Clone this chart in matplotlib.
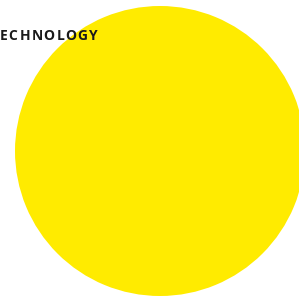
import matplotlib
matplotlib.use("Agg")
import matplotlib.pyplot as plt
from matplotlib.font_manager import FontProperties, findfont, get_font
from matplotlib.ft2font import LoadFlags

categories = ["TECHNOLOGY"]
values = [1]
colors = ["#FFEB00"]

W, H = 299, 297
fig = plt.figure(figsize=(W / 100, H / 100), dpi=100)
ax = fig.add_axes([0, 0, 1, 1])

ax.pie(values, colors=colors, radius=145, center=(160, 151),
       startangle=90, frame=True, wedgeprops=dict(linewidth=0))
ax.set_xlim(0, W)
ax.set_ylim(H, 0)
ax.set_aspect("auto")
ax.axis("off")

# label with letter spacing, right end at x=97
label = categories[0]
fsize = 10
fp = FontProperties(family="Open Sans", weight="bold", size=fsize)
font = get_font(findfont(fp))
font.set_size(fsize, 100)
advances, bearings = [], []
for ch in label:
    g = font.load_char(ord(ch), flags=LoadFlags.NO_HINTING)
    advances.append(g.linearHoriAdvance / 65536.0)
    bearings.append(g.horiBearingX / 64.0)
spacing = 1.4
total = sum(advances) + spacing * (len(label) - 1)
x = 97 - total
for ch, adv, bx in zip(label, advances, bearings):
    ax.text(x + bx, 36, ch, ha="left", va="center", fontproperties=fp,
            color="#1a1a1a", zorder=5)
    x += adv + spacing

fig.savefig("out.png", dpi=100)
